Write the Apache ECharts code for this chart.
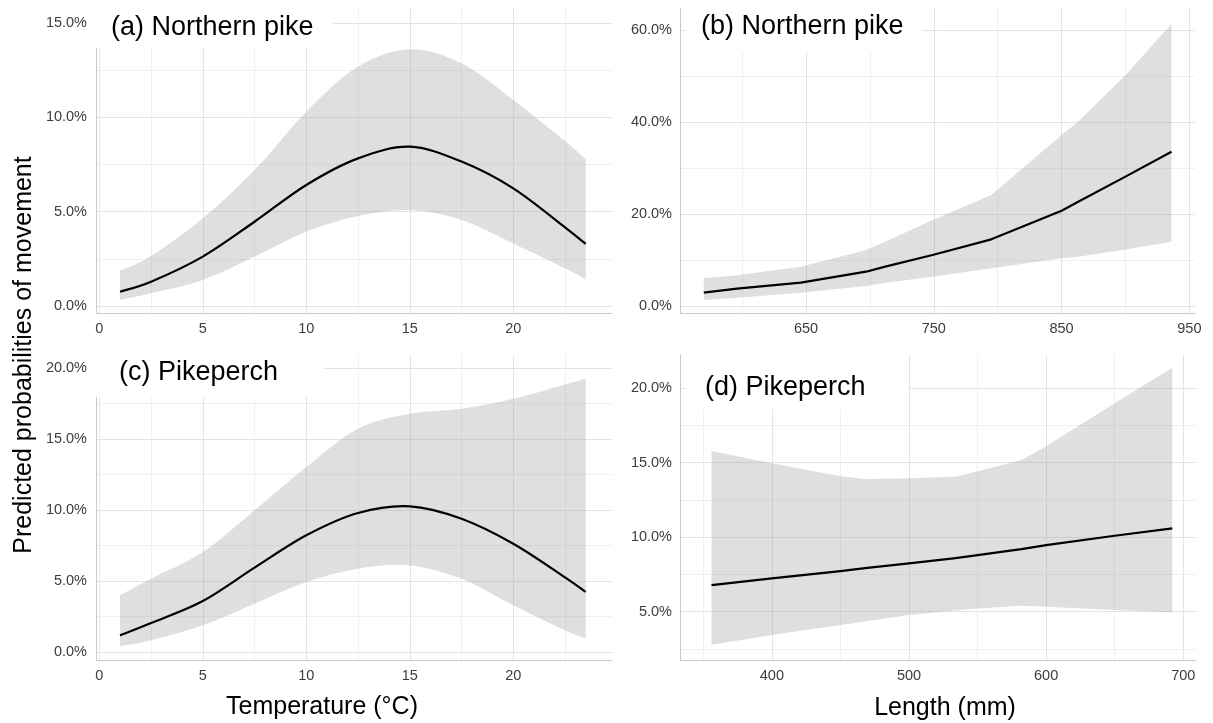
<!DOCTYPE html>
<html><head><meta charset="utf-8">
<script src="https://cdn.jsdelivr.net/npm/echarts@6/dist/echarts.min.js"></script>
<style>html,body{margin:0;padding:0;background:#fff}#c{width:1213px;height:723px}</style>
</head><body><div id="c"></div>
<script>
// ---- data (probabilities in %) ----
const tempX = [1, 2.5, 5, 7.5, 10, 12.5, 15, 17.5, 20, 22.5, 23.5];
const pikeTempMean = [0.76, 1.29, 2.62, 4.47, 6.42, 7.83, 8.45, 7.66, 6.24, 4.17, 3.29];
const pikeTempLow  = [0.32, 0.67, 1.38, 2.62, 3.94, 4.77, 5.09, 4.56, 3.32, 2.0, 1.41];
const pikeTempUp   = [1.87, 2.65, 4.65, 7.21, 10.31, 12.7, 13.62, 12.87, 10.93, 8.75, 7.78];

const pikeLenX    = [570, 596, 646, 697, 712, 749, 795, 850, 863, 900, 936];
const pikeLenMean = [2.9, 3.77, 5.07, 7.46, 8.55, 11.09, 14.49, 20.72, 22.68, 28.12, 33.55];
const pikeLenLow  = [1.3, 1.81, 2.9, 4.35, 5.07, 6.38, 8.19, 10.36, 10.72, 12.3, 13.99];
const pikeLenUp   = [6.01, 6.67, 8.55, 12.17, 13.99, 18.7, 24.13, 37.17, 40.07, 50.2, 61.3];

const perchTempMean = [1.17, 2.04, 3.59, 5.94, 8.22, 9.79, 10.26, 9.39, 7.63, 5.26, 4.23];
const perchTempLow  = [0.4, 0.82, 1.88, 3.4, 4.93, 5.87, 6.1, 5.16, 3.29, 1.53, 0.94];
const perchTempUp   = [3.99, 5.16, 7.04, 9.98, 13.03, 15.73, 16.78, 17.14, 17.84, 18.85, 19.25];

const perchLenX    = [356, 400, 450, 468, 500, 534, 550, 582, 600, 650, 692];
const perchLenMean = [6.79, 7.24, 7.73, 7.92, 8.24, 8.6, 8.8, 9.2, 9.47, 10.1, 10.59];
const perchLenLow  = [2.78, 3.43, 4.11, 4.35, 4.78, 5.08, 5.22, 5.4, 5.34, 5.11, 4.96];
const perchLenUp   = [15.78, 14.96, 14.1, 13.9, 13.95, 14.06, 14.43, 15.18, 16.1, 19.0, 21.38];

// ---- ticks ----
const tempTicks = [0, 5, 10, 15, 20];
const tempMinor = [2.5, 7.5, 12.5, 17.5, 22.5];
const pikeLenTicks = [650, 750, 850, 950];
const pikeLenMinor = [600, 700, 800, 900];
const perchLenTicks = [400, 500, 600, 700];
const perchLenMinor = [350, 450, 550, 650];
const yTicksA = [0, 5, 10, 15];
const yMinorA = [2.5, 7.5, 12.5];
const yTicksB = [0, 20, 40, 60];
const yMinorB = [10, 30, 50];
const yTicksC = [0, 5, 10, 15, 20];
const yMinorC = [2.5, 7.5, 12.5, 17.5];
const yTicksD = [5, 10, 15, 20];
const yMinorD = [2.5, 7.5, 12.5, 17.5];

const titles = ['(a) Northern pike', '(b) Northern pike', '(c) Pikeperch', '(d) Pikeperch'];
const yTitle = 'Predicted probabilities of movement';
const xTitleTemp = 'Temperature (°C)';
const xTitleLen = 'Length (mm)';

const FONT = '"Liberation Sans", Arial, sans-serif';
const MAJOR = '#e4e4e4', MINOR = '#f0f0f0', AXIS = '#c9c9c9', LABEL = '#3d3d3d';

const grids = [
  {left: 96, top: 7, width: 516, height: 306},
  {left: 680, top: 8, width: 515, height: 305},
  {left: 96, top: 355, width: 516, height: 305},
  {left: 680, top: 355, width: 516, height: 305}
];
const xr = [[-0.16, 24.77], [551.4, 954.4], [-0.16, 24.77], [333.0, 709.3]];
const yr = [[-0.371, 15.86], [-1.52, 64.78], [-0.563, 20.92], [1.76, 22.23]];
const xMaj = [tempTicks, pikeLenTicks, tempTicks, perchLenTicks];
const xMin = [tempMinor, pikeLenMinor, tempMinor, perchLenMinor];
const yMaj = [yTicksA, yTicksB, yTicksC, yTicksD];
const yMin = [yMinorA, yMinorB, yMinorC, yMinorD];
const yMargin = [9, 8, 9, 8];

const xAxis = [], yAxis = [];
for (let g = 0; g < 4; g++) {
  xAxis.push({
    type: 'value', gridIndex: g, min: xr[g][0], max: xr[g][1],
    axisLine: {show: true, onZero: false, lineStyle: {color: AXIS, width: 1}},
    axisTick: {show: false, customValues: xMaj[g]},
    axisLabel: {customValues: xMaj[g], margin: 8, color: LABEL, fontSize: 14.5, fontFamily: FONT},
    splitLine: {show: true, lineStyle: {color: MAJOR, width: 1}}
  });
  yAxis.push({
    type: 'value', gridIndex: g, min: yr[g][0], max: yr[g][1],
    axisLine: {show: true, onZero: false, lineStyle: {color: AXIS, width: 1}},
    axisTick: {show: false, customValues: yMaj[g]},
    axisLabel: {customValues: yMaj[g], margin: yMargin[g], color: LABEL, fontSize: 14.5, fontFamily: FONT,
      formatter: v => v.toFixed(1) + '%'},
    splitLine: {show: true, lineStyle: {color: MAJOR, width: 1}}
  });
}
for (let g = 0; g < 4; g++) {
  xAxis.push({
    type: 'value', gridIndex: g, min: xr[g][0], max: xr[g][1], position: 'bottom',
    axisLine: {show: false}, axisTick: {show: false, customValues: xMin[g]},
    axisLabel: {show: false}, splitLine: {show: true, lineStyle: {color: MINOR, width: 1}}
  });
  yAxis.push({
    type: 'value', gridIndex: g, min: yr[g][0], max: yr[g][1], position: 'left',
    axisLine: {show: false}, axisTick: {show: false, customValues: yMin[g]},
    axisLabel: {show: false}, splitLine: {show: true, lineStyle: {color: MINOR, width: 1}}
  });
}

const panels = [
  {x: tempX, mean: pikeTempMean, low: pikeTempLow, up: pikeTempUp, smooth: true},
  {x: pikeLenX, mean: pikeLenMean, low: pikeLenLow, up: pikeLenUp, smooth: false},
  {x: tempX, mean: perchTempMean, low: perchTempLow, up: perchTempUp, smooth: true},
  {x: perchLenX, mean: perchLenMean, low: perchLenLow, up: perchLenUp, smooth: false}
];

// path segments through pixel points (Catmull-Rom when smooth)
function segs(pts, smooth) {
  let d = '';
  for (let i = 0; i < pts.length - 1; i++) {
    const p1 = pts[i], p2 = pts[i + 1];
    if (smooth) {
      const p0 = pts[i - 1] || p1, p3 = pts[i + 2] || p2;
      const c1 = [p1[0] + (p2[0] - p0[0]) / 6, p1[1] + (p2[1] - p0[1]) / 6];
      const c2 = [p2[0] - (p3[0] - p1[0]) / 6, p2[1] - (p3[1] - p1[1]) / 6];
      d += ' C' + c1[0] + ' ' + c1[1] + ' ' + c2[0] + ' ' + c2[1] + ' ' + p2[0] + ' ' + p2[1];
    } else {
      d += ' L' + p2[0] + ' ' + p2[1];
    }
  }
  return d;
}

const series = [];
panels.forEach((p, g) => {
  series.push({
    type: 'custom', xAxisIndex: g, yAxisIndex: g, silent: true, clip: false, z: 2,
    data: [[p.x[0], p.mean[0]]],
    renderItem: function (params, api) {
      const up = p.x.map((v, i) => api.coord([v, p.up[i]]));
      const lo = p.x.map((v, i) => api.coord([v, p.low[i]])).reverse();
      const d = 'M' + up[0][0] + ' ' + up[0][1] + segs(up, p.smooth) +
        ' L' + lo[0][0] + ' ' + lo[0][1] + segs(lo, p.smooth) + ' Z';
      return {type: 'path', shape: {pathData: d}, style: {fill: 'rgba(150,150,150,0.3)', stroke: null}};
    }
  });
  series.push({
    type: 'custom', xAxisIndex: g, yAxisIndex: g, silent: true, clip: false, z: 3,
    data: [[p.x[0], p.mean[0]]],
    renderItem: function (params, api) {
      const m = p.x.map((v, i) => api.coord([v, p.mean[i]]));
      const d = 'M' + m[0][0] + ' ' + m[0][1] + segs(m, p.smooth);
      return {type: 'path', shape: {pathData: d},
        style: {fill: null, stroke: '#000', lineWidth: 2.2, lineJoin: 'round', lineCap: 'butt'}};
    }
  });
});

const titleStyle = {color: '#000', fontSize: 27, fontWeight: 'normal', fontFamily: FONT};
const title = [
  {text: titles[0], left: 90, top: 0, padding: [14, 20, 7, 21], backgroundColor: '#fff', textStyle: titleStyle},
  {text: titles[1], left: 686, top: 0, padding: [13, 18, 12, 15], backgroundColor: '#fff', textStyle: titleStyle},
  {text: titles[2], left: 90, top: 352, padding: [7, 46, 11, 29], backgroundColor: '#fff', textStyle: titleStyle},
  {text: titles[3], left: 686, top: 355, padding: [19, 43, 8, 19], backgroundColor: '#fff', textStyle: titleStyle}
];

const txt = (s, x, y, rot) => ({
  type: 'text', x: x, y: y, rotation: rot || 0, z: 100,
  style: {text: s, fill: '#000', fontSize: 25, fontFamily: FONT,
    align: 'center', verticalAlign: 'middle', textAlign: 'center', textVerticalAlign: 'middle'}
});

const chart = echarts.init(document.getElementById('c'), null, {renderer: 'canvas'});
chart.setOption({
  animation: false,
  backgroundColor: '#fff',
  title: title,
  grid: grids,
  xAxis: xAxis,
  yAxis: yAxis,
  series: series,
  graphic: [
    txt(yTitle, 24, 355, Math.PI / 2),
    txt(xTitleTemp, 322, 707),
    txt(xTitleLen, 945, 708)
  ]
});
</script></body></html>
